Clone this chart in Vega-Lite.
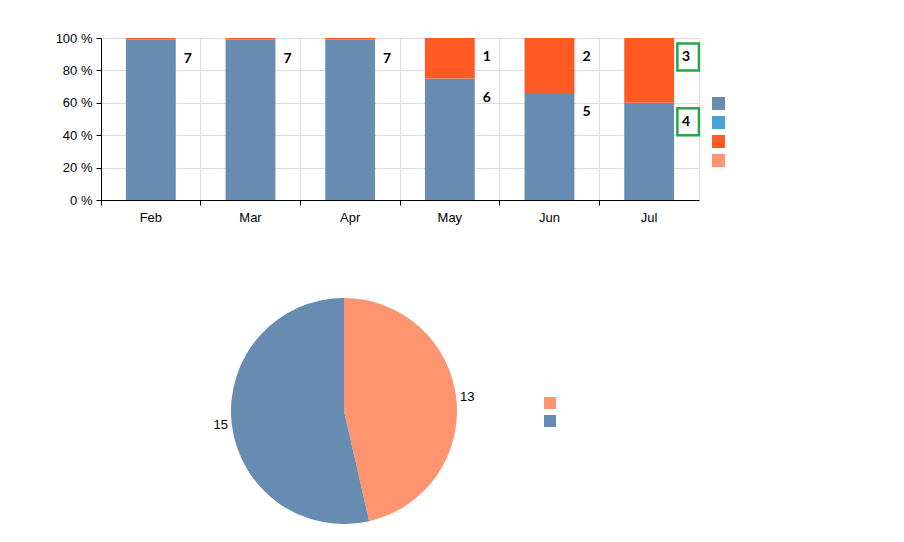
{
  "$schema": "https://vega.github.io/schema/vega-lite/v6.json",
  "background": "white",
  "padding": {"left": 54, "top": 31, "right": 5, "bottom": 5},
  "config": {
    "view": {"stroke": null},
    "font": "Liberation Sans",
    "axis": {
      "title": null,
      "domainColor": "black",
      "tickColor": "black",
      "tickSize": 5,
      "labelColor": "black",
      "labelFontSize": 13,
      "labelOverlap": false,
      "labelFlush": false,
      "gridColor": "#dddddd"
    },
    "axisY": {
      "values": [0, 20, 40, 60, 80, 100],
      "labelExpr": "datum.value + ' %'",
      "labelPadding": 4
    }
  },
  "spacing": 60,
  "vconcat": [
    {
      "width": 598,
      "height": 162,
      "view": {"stroke": "#dddddd"},
      "data": {
        "values": [
          {"month": "Feb", "series": "s1", "pct": 99, "label": 7},
          {"month": "Feb", "series": "s3", "pct": 1, "label": null},
          {"month": "Mar", "series": "s1", "pct": 99, "label": 7},
          {"month": "Mar", "series": "s3", "pct": 1, "label": null},
          {"month": "Apr", "series": "s1", "pct": 99, "label": 7},
          {"month": "Apr", "series": "s3", "pct": 1, "label": null},
          {"month": "May", "series": "s1", "pct": 75, "label": 6},
          {"month": "May", "series": "s3", "pct": 25, "label": 1},
          {"month": "Jun", "series": "s1", "pct": 66, "label": 5},
          {"month": "Jun", "series": "s3", "pct": 34, "label": 2},
          {"month": "Jul", "series": "s1", "pct": 60, "label": 4},
          {"month": "Jul", "series": "s3", "pct": 40, "label": 3}
        ]
      },
      "transform": [
        {"stack": "pct", "groupby": ["month"], "sort": [{"field": "series"}], "as": ["lo", "hi"]}
      ],
      "encoding": {
        "x": {
          "field": "month",
          "type": "nominal",
          "sort": ["Feb", "Mar", "Apr", "May", "Jun", "Jul"],
          "scale": {"paddingInner": 0, "paddingOuter": 0},
          "axis": {
            "labelAngle": 0,
            "bandPosition": 0,
            "grid": true,
            "labelPadding": 6
          }
        }
      },
      "layer": [
        {
          "mark": {"type": "bar", "width": {"band": 0.5}},
          "encoding": {
            "y": {
              "field": "lo",
              "type": "quantitative",
              "scale": {"domain": [0, 100]}
            },
            "y2": {"field": "hi"},
            "color": {
              "field": "series",
              "type": "nominal",
              "scale": {
                "domain": ["s1", "s2", "s3", "s4"],
                "range": ["#678bb1", "#47a3d1", "#ff5a24", "#ff9570"]
              },
              "legend": {
                "orient": "none",
                "legendX": 611,
                "legendY": 59,
                "title": null,
                "labelExpr": "''",
                "symbolType": "square",
                "symbolSize": 169,
                "symbolStrokeWidth": 0,
                "rowPadding": 6,
                "padding": 0
              }
            }
          }
        },
        {
          "transform": [{"filter": "isValid(datum.label)"}],
          "mark": {
            "type": "text",
            "xOffset": 37,
            "yOffset": 19,
            "font": "Lato",
            "fontWeight": "bold",
            "fontSize": 14,
            "color": "black"
          },
          "encoding": {
            "y": {"field": "hi", "type": "quantitative"},
            "text": {"field": "label"}
          }
        },
        {
          "transform": [{"filter": "datum.month == 'Jul'"}],
          "mark": {
            "type": "point",
            "shape": "M-0.8,-1H0.8V1H-0.8Z",
            "size": 729,
            "filled": false,
            "stroke": "#22a84a",
            "strokeWidth": 2.5,
            "opacity": 1,
            "xOffset": 39,
            "yOffset": 19
          },
          "encoding": {
            "y": {"field": "hi", "type": "quantitative"}
          }
        }
      ]
    },
    {
      "width": 486,
      "height": 252,
      "data": {
        "values": [
          {"cat": "a", "n": 13},
          {"cat": "b", "n": 15}
        ]
      },
      "encoding": {
        "theta": {"field": "n", "type": "quantitative", "stack": true},
        "color": {
          "field": "cat",
          "type": "nominal",
          "scale": {"domain": ["a", "b"], "range": ["#ff9570", "#678bb1"]},
          "legend": {
            "orient": "none",
            "legendX": 443,
            "legendY": 112,
            "title": null,
            "labelExpr": "''",
            "symbolType": "square",
            "symbolSize": 144,
            "symbolStrokeWidth": 0,
            "rowPadding": 6,
            "padding": 0
          }
        }
      },
      "layer": [
        {"mark": {"type": "arc", "radius": 113}},
        {
          "mark": {"type": "text", "radius": 124, "fontSize": 13, "color": "black"},
          "encoding": {
            "text": {"field": "n"},
            "color": {"value": "black"}
          }
        }
      ]
    }
  ],
  "resolve": {"scale": {"color": "independent"}}
}
